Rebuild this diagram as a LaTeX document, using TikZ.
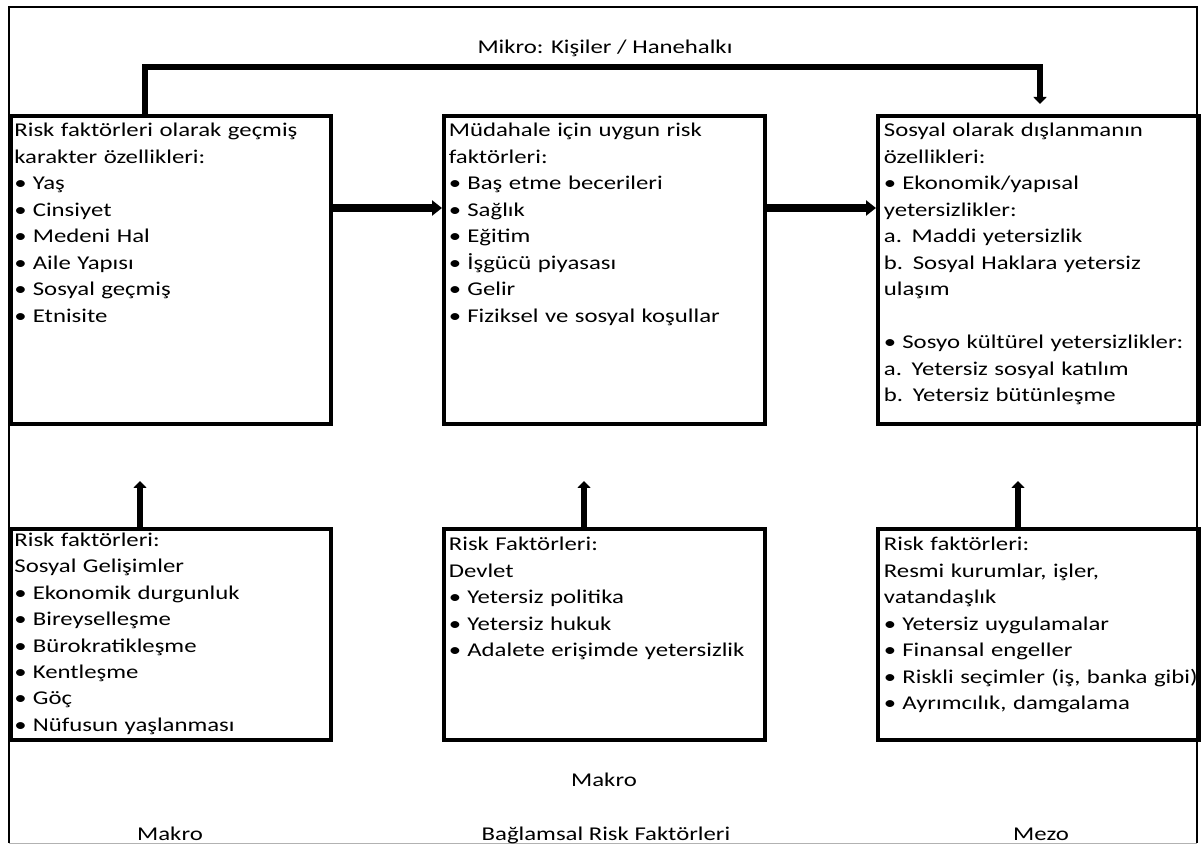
\documentclass[tikz,border=0pt]{standalone}
\usepackage{fontspec}
\setmainfont{Carlito}[FakeStretch=1.27]
\usetikzlibrary{arrows.meta, calc}
\newcommand{\itm}{\makebox[9.25pt][l]{•}}
\tikzset{
    riskbox/.style={draw, line width=2pt, anchor=north west, inner sep=0pt},
    boxtext/.style={anchor=base west, inner sep=0pt, text width=180pt, align=left,
        font=\fontsize{9.75}{13.25}\selectfont},
    levellabel/.style={anchor=base, inner sep=0pt, font=\fontsize{9.75}{13.25}\selectfont},
    flow/.style={-{Triangle[width=7.5pt,length=5pt]}, line width=3.7pt},
    lift/.style={-{Triangle[width=6.5pt,length=3.5pt]}, line width=3pt, line join=miter},
}

\begin{document}
\begin{tikzpicture}[x=0.5pt,y=-0.5pt]
            \useasboundingbox (0,0) rectangle (1201,845);
            \draw[line width=1pt] (9,843) -- (9,7) -- (1197,7) -- (1197,843);
            \draw[gray!60, line width=0.5pt] (9,843) -- (1197,843);

            % upper row
            \node[riskbox, minimum width=160pt, minimum height=154pt] (b1) at (9,114) {};
            \node[riskbox, minimum width=160.5pt, minimum height=154pt] (b2) at (442,114) {};
            \node[riskbox, minimum width=160.5pt, minimum height=154pt] (b3) at (876,114) {};
            % lower row
            \node[riskbox, minimum width=160pt, minimum height=105.5pt] (b4) at (9,527) {};
            \node[riskbox, minimum width=160.5pt, minimum height=105.5pt] (b5) at (442,527) {};
            \node[riskbox, minimum width=160.5pt, minimum height=105.5pt] (b6) at (876,527) {};

            \node[boxtext] (t1) at (14,137) {Risk faktörleri olarak geçmiş\\ karakter özellikleri:\\
                \itm Yaş\\ \itm Cinsiyet\\ \itm Medeni Hal\\ \itm Aile Yapısı\\ \itm Sosyal geçmiş\\ \itm Etnisite};
            \node[boxtext] (t2) at (448.5,137) {Müdahale için uygun risk\\ faktörleri:\\
                \itm Baş etme becerileri\\ \itm Sağlık\\ \itm Eğitim\\ \itm İşgücü piyasası\\ \itm Gelir\\
                \itm Fiziksel ve sosyal koşullar};
            \node[boxtext] (t3) at (883.5,137) {Sosyal olarak dışlanmanın\\ özellikleri:\\
                \itm Ekonomik/yapısal\\ yetersizlikler:\\ a. Maddi yetersizlik\\ b. Sosyal Haklara yetersiz\\
                ulaşım\\ \mbox{}\\ \itm Sosyo kültürel yetersizlikler:\\ a. Yetersiz sosyal katılım\\
                b. Yetersiz bütünleşme};
            \node[boxtext] (t4) at (14,546) {Risk faktörleri:\\ Sosyal Gelişimler\\
                \itm Ekonomik durgunluk\\ \itm Bireyselleşme\\ \itm Bürokratikleşme\\ \itm Kentleşme\\
                \itm Göç\\ \itm Nüfusun yaşlanması};
            \node[boxtext] (t5) at (448.5,551) {Risk Faktörleri:\\ Devlet\\
                \itm Yetersiz politika\\ \itm Yetersiz hukuk\\ \itm Adalete erişimde yetersizlik};
            \node[boxtext] (t6) at (883.5,551) {Risk faktörleri:\\ Resmi kurumlar, işler,\\ vatandaşlık\\
                \itm Yetersiz uygulamalar\\ \itm Finansal engeller\\ \itm Riskli seçimler (iş, banka gibi)\\
                \itm Ayrımcılık, damgalama};

            % level labels
            \node[levellabel] (mikro) at (605,54) {Mikro: Kişiler / Hanehalkı};
            \node[levellabel] (makromid) at (604,786) {Makro};
            \node[levellabel] (makro) at (170,840) {Makro};
            \node[levellabel] (baglam) at (606,840) {Bağlamsal Risk Faktörleri};
            \node[levellabel] (mezo) at (1041,840) {Mezo};

            % connectors
            \coordinate (turn) at (1040,67);
            \coordinate (tip3) at (1040,104);
            \draw[lift] (145,0 |- b1.north) |- (turn) -- (tip3);
            \draw[flow] (b1.east |- 0,208) -- (b2.west |- 0,208);
            \draw[flow] (b2.east |- 0,208) -- (b3.west |- 0,208);

            \coordinate (up4) at (140,481);
            \coordinate (up5) at (584,481);
            \coordinate (up6) at (1018,481);
            \draw[lift] (up4 |- b4.north) -- (up4);
            \draw[lift] (up5 |- b5.north) -- (up5);
            \draw[lift] (up6 |- b6.north) -- (up6);
        \end{tikzpicture}
\end{document}
